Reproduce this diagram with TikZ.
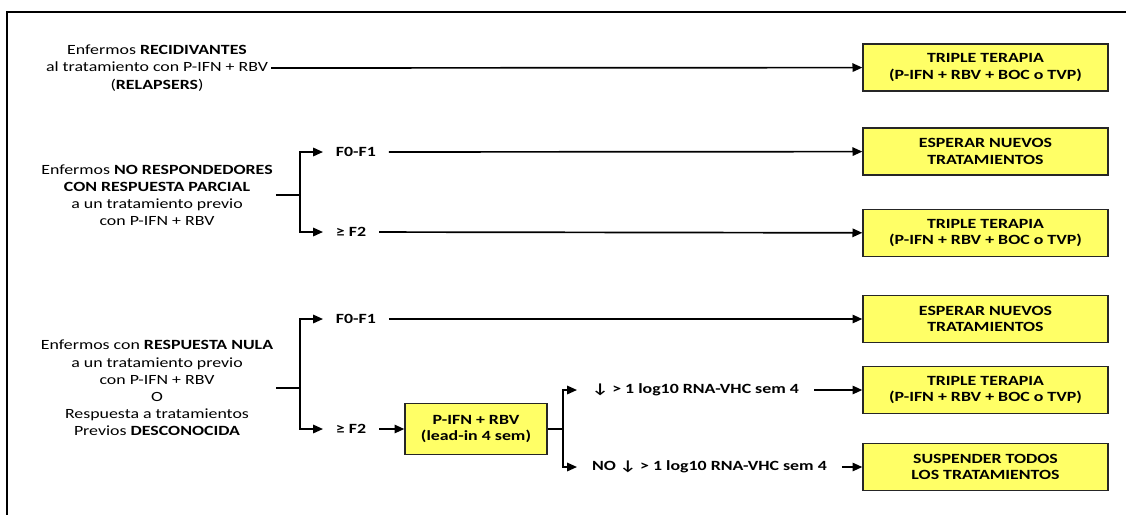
\documentclass[tikz,border=0pt]{standalone}
\usepackage{fontspec}
\setmainfont{Carlito}[FakeStretch=1.27]
\usepackage{tikz}
\usetikzlibrary{arrows.meta,positioning,calc}
\definecolor{boxyellow}{RGB}{255,255,102}

\begin{document}
\begin{tikzpicture}[
    x=0.025cm, y=-0.025cm,
    every node/.style={font=\fontsize{10}{12.2}\selectfont},
    patient/.style={align=center, inner sep=2pt},
    option/.style={font=\fontsize{10}{12}\selectfont\bfseries, inner xsep=9pt, anchor=west},
    therapy/.style={rectangle, draw=black!85, line width=0.9pt, fill=boxyellow, minimum width=6.125cm, minimum height=1.175cm, align=center, font=\fontsize{10}{11.5}\selectfont\bfseries},
    arrow/.style={-{Triangle[length=7pt,width=6pt]}, line width=1.2pt},
    link/.style={line width=1.2pt}
]
\useasboundingbox (0,0) rectangle (1126,515);

% Frame
\draw[line width=1.2pt] (1126,12) -- (7,12) -- (7,515);

% Patient groups
\node[patient] (relapsers) at (157,68) {Enfermos \textbf{RECIDIVANTES}\\al tratamiento con P-IFN + RBV\\(\textbf{RELAPSERS})};
\node[patient] (partial) at (157,195) {Enfermos \textbf{NO RESPONDEDORES}\\\textbf{CON RESPUESTA PARCIAL}\\a un tratamiento previo\\con P-IFN + RBV};
\node[patient] (nulla) at (157,388) {Enfermos con \textbf{RESPUESTA NULA}\\a un tratamiento previo\\con P-IFN + RBV\\O\\Respuesta a tratamientos\\Previos \textbf{DESCONOCIDA}};

% Therapy boxes
\node[therapy] (triple1) at (985.5,67.5) {TRIPLE TERAPIA\\(P-IFN + RBV + BOC o TVP)};
\node[therapy] (wait1) at (985.5,151.5) {ESPERAR NUEVOS\\TRATAMIENTOS};
\node[therapy] (triple2) at (985.5,233) {TRIPLE TERAPIA\\(P-IFN + RBV + BOC o TVP)};
\node[therapy] (wait2) at (985.5,319) {ESPERAR NUEVOS\\TRATAMIENTOS};
\node[therapy] (triple3) at (985.5,390) {TRIPLE TERAPIA\\(P-IFN + RBV + BOC o TVP)};
\node[therapy] (stop) at (985.5,467) {SUSPENDER TODOS\\LOS TRATAMIENTOS};

% Lead-in box
\node[therapy, minimum width=3.55cm, minimum height=1.275cm] (leadin) at (476,429) {P-IFN + RBV\\(lead-in 4 sem)};

% Fibrosis options
\coordinate (split2) at (300,195);
\coordinate (split3) at (300,388);
\coordinate (split4) at (563,429);
\node[option] (f01a) at (323,152) {F0-F1};
\node[option] (f2a) at (323,232) {≥ F2};
\node[option] (f01b) at (323,319) {F0-F1};
\node[option] (f2b) at (323,429) {≥ F2};

% Response at week 4
\node[option, inner xsep=10.5pt] (resp) at (577,390) {↓ > 1 log10 RNA-VHC sem 4};
\node[option, inner xsep=10.5pt] (noresp) at (577,467) {NO ↓ > 1 log10 RNA-VHC sem 4};

% Arrows
\draw[arrow] (relapsers.east) -- (triple1);
\draw[link] (partial.east) -- (split2);
\draw[arrow] (split2) |- (f01a);
\draw[arrow] (split2) |- (f2a);
\draw[arrow] (f01a) -- (wait1);
\draw[arrow] (f2a) -- (triple2);
\draw[link] (nulla.east) -- (split3);
\draw[arrow] (split3) |- (f01b);
\draw[arrow] (split3) |- (f2b);
\draw[arrow] (f01b) -- (wait2);
\draw[arrow] (f2b) -- (leadin);
\draw[link] (leadin) -- (split4);
\draw[arrow] (split4) |- (resp);
\draw[arrow] (split4) |- (noresp);
\draw[arrow] (resp) -- (triple3);
\draw[arrow] (noresp) -- (stop);

\end{tikzpicture}
\end{document}
